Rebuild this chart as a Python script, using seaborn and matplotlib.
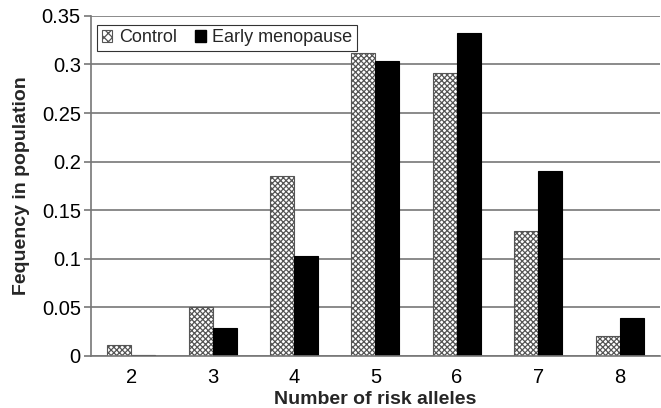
import matplotlib
matplotlib.use("Agg")
import matplotlib.pyplot as plt
import seaborn as sns
import pandas as pd
import numpy as np

categories = ["2", "3", "4", "5", "6", "7", "8"]
control = [0.011, 0.050, 0.185, 0.312, 0.291, 0.129, 0.020]
early = [0.001, 0.029, 0.103, 0.304, 0.332, 0.190, 0.039]
series_names = ["Control", "Early menopause"]

df = pd.DataFrame({
    "alleles": categories * 2,
    "freq": control + early,
    "group": [series_names[0]] * len(categories) + [series_names[1]] * len(categories),
})

sns.set_theme(style="white")
plt.rcParams['font.family'] = ['Liberation Sans', 'DejaVu Sans']
plt.rcParams['hatch.color'] = '#666666'
plt.rcParams['hatch.linewidth'] = 0.9

fig = plt.figure(figsize=(6.61, 4.08), dpi=100)
ax = fig.add_axes([0.137, 0.128, 0.862, 0.833])

sns.barplot(data=df, x="alleles", y="freq", hue="group", order=categories,
            hue_order=series_names, palette=["white", "black"], width=0.59,
            edgecolor="black", linewidth=0.8, gap=0, ax=ax, legend=False, saturation=1)

for bar in ax.containers[0]:
    bar.set_hatch("xxxxxx")
    bar.set_edgecolor("#555555")
for bar in ax.containers[1]:
    bar.set_facecolor("black")

ax.set_ylim(0, 0.35)
ax.set_xlim(-0.5, len(categories) - 0.5)
ax.set_yticks(np.arange(0, 0.351, 0.05))
ax.set_yticklabels(["0", "0.05", "0.1", "0.15", "0.2", "0.25", "0.3", "0.35"])
ax.yaxis.grid(True, color="#777777", linewidth=1.2)
ax.set_axisbelow(True)
for s in ["top", "right"]:
    ax.spines[s].set_visible(False)
ax.spines["left"].set_color("#777777")
ax.spines["bottom"].set_color("#777777")
ax.spines["left"].set_linewidth(1.2)
ax.spines["bottom"].set_linewidth(1.2)

ax.set_xticks(np.arange(len(categories)))
ax.set_xticklabels(categories)
ax.set_xticks(np.arange(-0.5, len(categories), 1), minor=True)
ax.tick_params(axis="x", which="major", length=0, labelsize=14.5, pad=9, colors="black")
ax.tick_params(axis="x", which="minor", length=5, width=1.2, color="#777777", direction="out")
ax.tick_params(axis="y", which="major", length=5, width=1.2, color="#777777", direction="out",
               labelsize=14.5, pad=2, labelcolor="black", left=True)

ax.set_xlabel("Number of risk alleles", fontsize=14, fontweight="bold", labelpad=3)
ax.set_ylabel("Fequency in population", fontsize=14, fontweight="bold", labelpad=14)
ax.yaxis.set_label_coords(-0.107, 0.5)

from matplotlib.patches import Patch
handles = [Patch(facecolor="white", edgecolor="#555555", hatch="xxxx", linewidth=0.8),
           Patch(facecolor="black", edgecolor="black")]
leg = ax.legend(handles, series_names, loc="upper left", bbox_to_anchor=(0.005, 0.985),
                ncol=2, frameon=True, fancybox=False, edgecolor="black", fontsize=13,
                handlelength=0.6, handleheight=0.6, handletextpad=0.35, columnspacing=1.0,
                borderpad=0.25, borderaxespad=0.2)
leg.get_frame().set_linewidth(0.8)

fig.savefig("out.png", dpi=100)
